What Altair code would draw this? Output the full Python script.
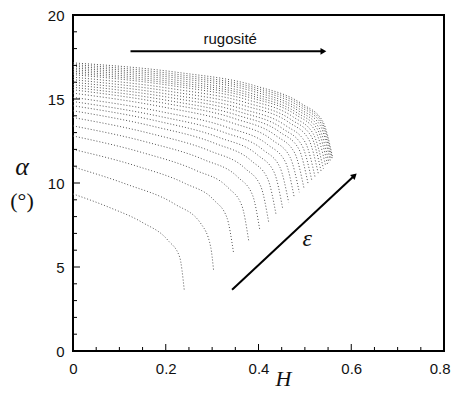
import altair as alt
import pandas as pd

# Curves (one per epsilon value): H and alpha
H_curves = [
    [0, 0.078, 0.149, 0.205, 0.230, 0.240],
    [0, 0.114, 0.219, 0.276, 0.297, 0.303],
    [0, 0.138, 0.242, 0.304, 0.332, 0.346],
    [0, 0.152, 0.265, 0.334, 0.364, 0.379],
    [0, 0.161, 0.282, 0.355, 0.387, 0.403],
    [0, 0.169, 0.295, 0.371, 0.405, 0.422],
    [0, 0.175, 0.307, 0.385, 0.420, 0.438],
    [0, 0.181, 0.316, 0.398, 0.434, 0.452],
    [0, 0.186, 0.326, 0.409, 0.446, 0.465],
    [0, 0.191, 0.334, 0.420, 0.458, 0.477],
    [0, 0.195, 0.342, 0.429, 0.468, 0.488],
    [0, 0.199, 0.349, 0.438, 0.478, 0.498],
    [0, 0.203, 0.355, 0.446, 0.487, 0.507],
    [0, 0.206, 0.361, 0.453, 0.494, 0.515],
    [0, 0.209, 0.365, 0.459, 0.501, 0.522],
    [0, 0.212, 0.370, 0.466, 0.508, 0.529],
    [0, 0.214, 0.375, 0.471, 0.514, 0.535],
    [0, 0.216, 0.378, 0.475, 0.518, 0.540],
    [0, 0.218, 0.382, 0.480, 0.523, 0.545],
    [0, 0.220, 0.384, 0.483, 0.527, 0.549],
    [0, 0.221, 0.386, 0.486, 0.530, 0.552],
    [0, 0.222, 0.389, 0.488, 0.533, 0.555],
    [0, 0.223, 0.390, 0.490, 0.535, 0.557],
    [0, 0.224, 0.391, 0.492, 0.537, 0.559],
    [0, 0.224, 0.392, 0.493, 0.538, 0.560],
]
A_curves = [
    [9.35, 8.55, 7.66, 6.58, 5.59, 3.60],
    [10.96, 9.94, 8.75, 7.57, 6.18, 4.84],
    [12.00, 11.00, 9.97, 8.98, 7.93, 5.88],
    [12.80, 11.79, 10.75, 9.73, 8.66, 6.54],
    [13.40, 12.42, 11.39, 10.36, 9.29, 7.17],
    [13.90, 12.93, 11.91, 10.87, 9.79, 7.66],
    [14.30, 13.36, 12.35, 11.31, 10.24, 8.10],
    [14.60, 13.69, 12.70, 11.67, 10.62, 8.50],
    [14.85, 13.97, 13.01, 11.99, 10.95, 8.85],
    [15.10, 14.24, 13.30, 12.28, 11.25, 9.15],
    [15.35, 14.52, 13.59, 12.57, 11.54, 9.45],
    [15.55, 14.74, 13.83, 12.81, 11.79, 9.70],
    [15.70, 14.92, 14.03, 13.03, 12.02, 9.95],
    [15.85, 15.10, 14.22, 13.22, 12.22, 10.15],
    [16.00, 15.27, 14.41, 13.41, 12.41, 10.35],
    [16.15, 15.44, 14.60, 13.60, 12.61, 10.55],
    [16.30, 15.61, 14.77, 13.76, 12.77, 10.70],
    [16.45, 15.78, 14.94, 13.93, 12.93, 10.85],
    [16.55, 15.90, 15.08, 14.07, 13.08, 11.00],
    [16.65, 16.01, 15.20, 14.18, 13.20, 11.10],
    [16.75, 16.13, 15.32, 14.30, 13.31, 11.20],
    [16.85, 16.25, 15.45, 14.41, 13.43, 11.30],
    [16.95, 16.36, 15.57, 14.53, 13.54, 11.40],
    [17.05, 16.47, 15.68, 14.63, 13.62, 11.45],
    [17.15, 16.59, 15.79, 14.72, 13.70, 11.50],
]

x_major = [0, 0.2, 0.4, 0.6, 0.8]
x_minor = [0.05, 0.1, 0.15, 0.25, 0.3, 0.35, 0.45, 0.5, 0.55, 0.65, 0.7, 0.75]
y_major = [0, 5, 10, 15, 20]
y_minor = [1, 2, 3, 4, 6, 7, 8, 9, 11, 12, 13, 14, 16, 17, 18, 19]

rug_H = [0.124, 0.540]
rug_A = [17.84, 17.84]
eps_H = [0.343, 0.607]
eps_A = [3.65, 10.45]

rows = []
for i, (hs, als) in enumerate(zip(H_curves, A_curves)):
    for j, (h, a) in enumerate(zip(hs, als)):
        rows.append({"curve": i, "H": h, "alpha": a, "o": j})
df = pd.DataFrame(rows)

W, Hh = 371, 336
xs = alt.Scale(domain=[0, 0.8], nice=False, zero=False)
ys = alt.Scale(domain=[0, 20], nice=False, zero=False)

curves = alt.Chart(df).mark_line(
    strokeDash=[1, 2], strokeWidth=1, color="#555", interpolate="monotone"
).encode(
    x=alt.X("H:Q", scale=xs, axis=alt.Axis(
        values=x_major, format="~g", ticks=False, domain=False, grid=False,
        labelPadding=10,
        labelAlign={"condition": {"test": "datum.value >= 0.8", "value": "right"}, "value": "center"},
        labelOffset={"condition": {"test": "datum.value >= 0.8", "value": 6}, "value": 0},
        title="H", titleFont="Liberation Serif",
        titleFontStyle="italic", titleFontWeight="normal", titleFontSize=22,
        titleColor="#111", titleX=210, titleY=27, titleBaseline="middle")),
    y=alt.Y("alpha:Q", scale=ys, axis=alt.Axis(
        values=y_major, format="d", ticks=False, domain=False, grid=False,
        labelPadding=9, title=None)),
    detail="curve:N",
    order="o:Q",
)

xt_major = alt.Chart(pd.DataFrame({"v": x_major})).mark_rule(color="black", strokeWidth=1).encode(
    x=alt.X("v:Q", scale=xs), y=alt.value(Hh), y2=alt.value(Hh - 7))
xt_minor = alt.Chart(pd.DataFrame({"v": x_minor})).mark_rule(color="black", strokeWidth=1).encode(
    x=alt.X("v:Q", scale=xs), y=alt.value(Hh), y2=alt.value(Hh - 4))
yt_major = alt.Chart(pd.DataFrame({"v": y_major})).mark_rule(color="black", strokeWidth=1).encode(
    y=alt.Y("v:Q", scale=ys), x=alt.value(0), x2=alt.value(7))
yt_minor = alt.Chart(pd.DataFrame({"v": y_minor})).mark_rule(color="black", strokeWidth=1).encode(
    y=alt.Y("v:Q", scale=ys), x=alt.value(0), x2=alt.value(4))

rug_df = pd.DataFrame({"H": rug_H, "alpha": rug_A})
rug_line = alt.Chart(rug_df).mark_line(color="black", strokeWidth=2).encode(
    x=alt.X("H:Q", scale=xs), y=alt.Y("alpha:Q", scale=ys))
rug_head = alt.Chart(rug_df.iloc[[1]]).mark_point(
    shape="triangle-right", filled=True, color="black", size=45, opacity=1).encode(
    x=alt.X("H:Q", scale=xs), y=alt.Y("alpha:Q", scale=ys))
rug_text = alt.Chart(pd.DataFrame({"H": [0.339], "alpha": [18.55], "t": ["rugosité"]})).mark_text(
    font="Liberation Sans", fontSize=15, color="#111").encode(
    x=alt.X("H:Q", scale=xs), y=alt.Y("alpha:Q", scale=ys), text="t:N")

eps_df = pd.DataFrame({"H": eps_H, "alpha": eps_A})
eps_line = alt.Chart(eps_df).mark_line(color="black", strokeWidth=2).encode(
    x=alt.X("H:Q", scale=xs), y=alt.Y("alpha:Q", scale=ys))
eps_head = alt.Chart(eps_df.iloc[[1]]).mark_point(
    shape="triangle-up", filled=True, color="black", size=45, opacity=1, angle=47.5).encode(
    x=alt.X("H:Q", scale=xs), y=alt.Y("alpha:Q", scale=ys))
eps_text = alt.Chart(pd.DataFrame({"H": [0.505], "alpha": [6.68], "t": ["ε"]})).mark_text(
    font="Liberation Serif", fontStyle="italic", fontSize=24, color="#111").encode(
    x=alt.X("H:Q", scale=xs), y=alt.Y("alpha:Q", scale=ys), text="t:N")

alpha_lbl = alt.Chart(pd.DataFrame({"t": ["α"]})).mark_text(
    font="Liberation Serif", fontStyle="italic", fontSize=26, color="#111").encode(
    x=alt.value(-51), y=alt.value(152), text="t:N")
deg_lbl = alt.Chart(pd.DataFrame({"t": ["(°)"]})).mark_text(
    font="Liberation Serif", fontSize=22, color="#111").encode(
    x=alt.value(-51), y=alt.value(186), text="t:N")

chart = alt.layer(
    curves, xt_major, xt_minor, yt_major, yt_minor,
    rug_line, rug_head, rug_text, eps_line, eps_head, eps_text, alpha_lbl, deg_lbl
).properties(
    width=W, height=Hh,
    autosize=alt.AutoSizeParams(type="none"),
    padding={"left": 65, "top": 7, "right": 7, "bottom": 40},
).configure_view(
    stroke="black", strokeWidth=2
).configure_axis(
    labelFont="Liberation Sans", labelFontSize=15, labelColor="#111"
)

chart.save("out.html", embed_options={"renderer": "svg", "actions": False})
